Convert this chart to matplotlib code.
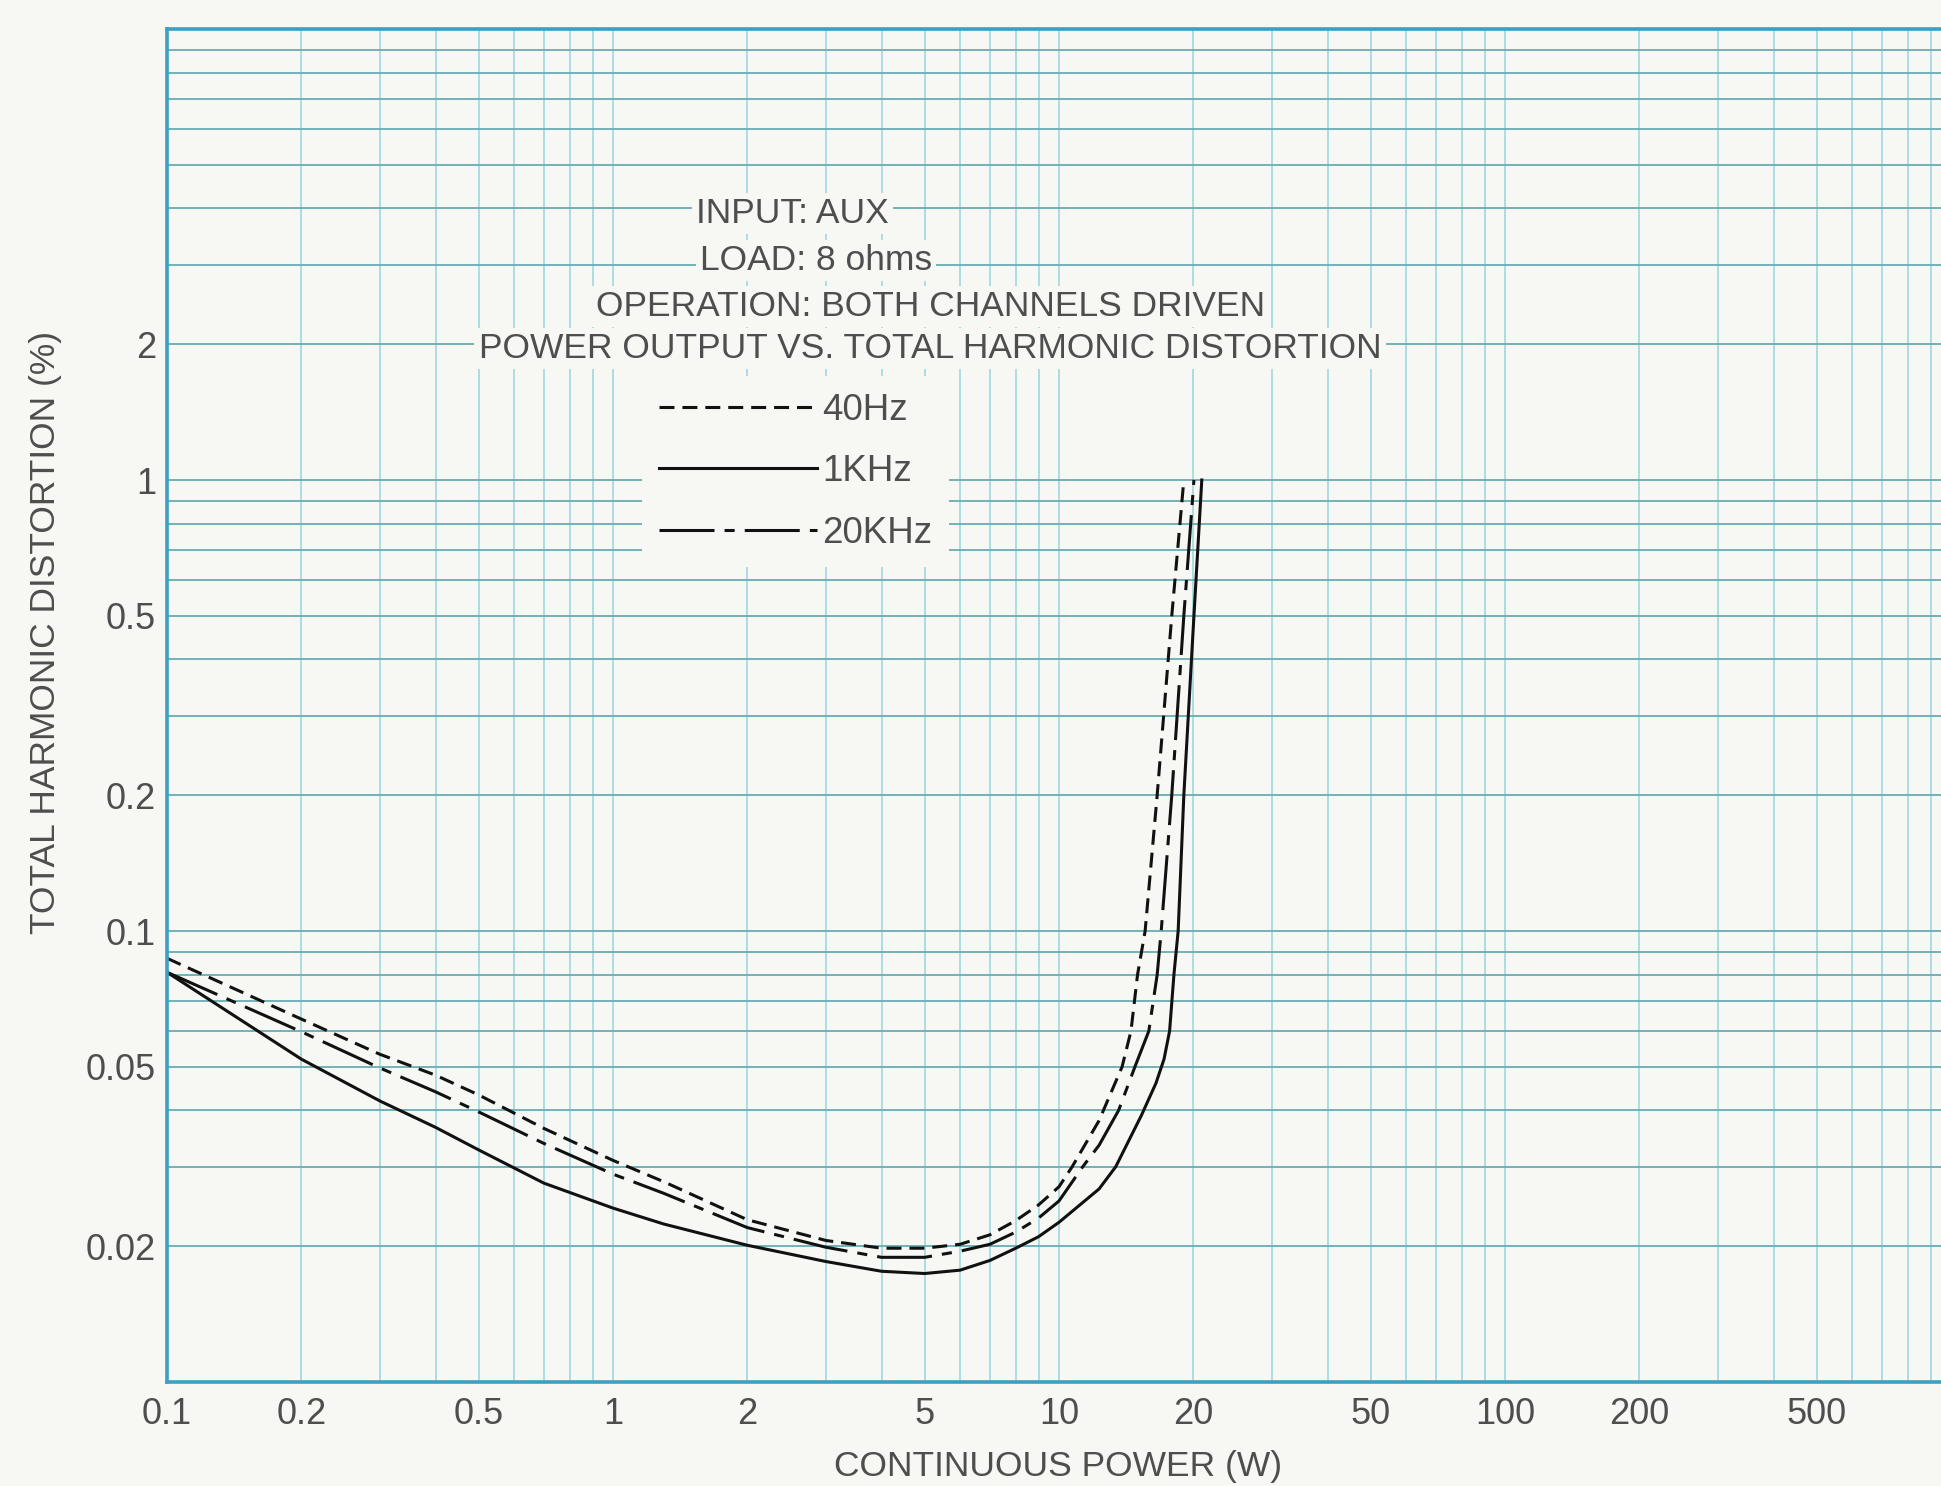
import numpy as np
import matplotlib
matplotlib.use("Agg")
import matplotlib.pyplot as plt
from matplotlib.ticker import LogLocator, NullFormatter

# ---------------- data ----------------
power_40hz = [0.1, 0.2, 0.3, 0.4, 0.5, 0.7, 1.0, 1.3, 2, 3, 4, 5, 6, 7, 8, 9, 10,
              10.7, 12.3, 13.85, 14.5, 15.0, 15.6, 16.6, 17.9, 19.05]
thd_40hz = [0.087, 0.0638, 0.0533, 0.0479, 0.0433, 0.0365, 0.031, 0.0278, 0.0229,
            0.0206, 0.0198, 0.0198, 0.0202, 0.0212, 0.0228, 0.0247, 0.0271,
            0.030, 0.038, 0.050, 0.060, 0.080, 0.10, 0.20, 0.50, 1.0]

power_1khz = [0.1, 0.2, 0.3, 0.4, 0.5, 0.7, 1.0, 1.3, 2, 3, 4, 5, 6, 7, 8, 9, 10,
              12.3, 13.4, 15.3, 16.5, 17.2, 17.7, 18.1, 18.5, 19.05, 20.07, 20.9]
thd_1khz = [0.081, 0.052, 0.042, 0.0367, 0.0327, 0.0276, 0.0243, 0.0224, 0.0201,
            0.0185, 0.0176, 0.0174, 0.0177, 0.0186, 0.0198, 0.0210, 0.0226,
            0.0268, 0.030, 0.039, 0.046, 0.052, 0.060, 0.080, 0.10, 0.20, 0.50, 1.0]

power_20khz = [0.1, 0.2, 0.3, 0.4, 0.5, 0.7, 1.0, 1.3, 2, 3, 4, 5, 6, 7, 8, 9, 10,
               11.3, 12.3, 13.6, 14.8, 15.9, 16.6, 16.95, 17.9, 19.05, 20.07]
thd_20khz = [0.081, 0.0598, 0.0497, 0.044, 0.0397, 0.0338, 0.0289, 0.0262, 0.0220,
             0.0199, 0.0189, 0.0189, 0.0195, 0.0202, 0.0215, 0.0231, 0.0252,
             0.030, 0.0335, 0.040, 0.050, 0.060, 0.080, 0.10, 0.20, 0.50, 1.0]

series_labels = ["40Hz", "1KHz", "20KHz"]

x_ticks = [0.1, 0.2, 0.5, 1, 2, 5, 10, 20, 50, 100, 200, 500]
x_tick_labels = ["0.1", "0.2", "0.5", "1", "2", "5", "10", "20", "50", "100", "200", "500"]
y_ticks = [0.02, 0.05, 0.1, 0.2, 0.5, 1, 2]
y_tick_labels = ["0.02", "0.05", "0.1", "0.2", "0.5", "1", "2"]

title_lines = ["INPUT: AUX", "LOAD: 8 ohms", "OPERATION: BOTH CHANNELS DRIVEN",
               "POWER OUTPUT VS. TOTAL HARMONIC DISTORTION"]
x_label = "CONTINUOUS POWER (W)"
y_label = "TOTAL HARMONIC DISTORTION (%)"

# ---------------- style ----------------
plt.rcParams["font.family"] = ["Liberation Sans", "DejaVu Sans"]
BG = "#f7f7f4"
TXT = "#4e4e4e"
HCOL = "#6cafb5"
VCOL = "#98d5df"
FRAME = "#3d9fc2"

W, H = 1941, 1486
fig = plt.figure(figsize=(W / 100, H / 100), dpi=100, facecolor=BG)


def fx(px):
    return px / W


def fy(py):
    return 1 - py / H


x_left, x_right, y_top, y_bot = 167, 1951, 29, 1382
ax = fig.add_axes([fx(x_left), fy(y_bot), fx(x_right) - fx(x_left), fy(y_top) - fy(y_bot)])
ax.set_facecolor(BG)
ax.set_xscale("log")
ax.set_yscale("log")
ax.set_xlim(0.1, 1000)
ax.set_ylim(0.01, 10)
ax.set_axisbelow(True)

ax.set_xticks(x_ticks)
ax.set_xticklabels(x_tick_labels)
ax.set_yticks(y_ticks)
ax.set_yticklabels(y_tick_labels)
ax.xaxis.set_minor_locator(LogLocator(base=10, subs=np.arange(1, 10), numticks=100))
ax.yaxis.set_minor_locator(LogLocator(base=10, subs=np.arange(1, 10), numticks=100))
ax.xaxis.set_minor_formatter(NullFormatter())
ax.yaxis.set_minor_formatter(NullFormatter())
ax.tick_params(which="both", length=0)
ax.tick_params(axis="x", which="major", pad=11, labelsize=26, labelcolor=TXT)
ax.tick_params(axis="y", which="major", pad=8, labelsize=26, labelcolor=TXT)

ax.xaxis.grid(True, which="both", color=VCOL, lw=1.1)
ax.yaxis.grid(True, which="both", color=HCOL, lw=1.35)
for s in ax.spines.values():
    s.set_color(FRAME)
    s.set_linewidth(2.6)

LW = 2.2
ls_40 = (0, (4.9, 2.6))
ls_1k = "-"
ls_20 = (0, (18, 3.3, 3.3, 3.3))

l40, = ax.plot(power_40hz, thd_40hz, color="#111111", lw=LW, linestyle=ls_40)
l1k, = ax.plot(power_1khz, thd_1khz, color="#111111", lw=LW, linestyle=ls_1k)
l20, = ax.plot(power_20khz, thd_20khz, color="#111111", lw=LW, linestyle=ls_20)

# title block
tb = dict(facecolor=BG, edgecolor="none", pad=3)
fig.text(fx(696), fy(223), title_lines[0], ha="left", va="baseline", fontsize=25.5, color=TXT, bbox=tb)
fig.text(fx(700), fy(270), title_lines[1], ha="left", va="baseline", fontsize=25.5, color=TXT, bbox=tb)
fig.text(fx(931), fy(316), title_lines[2], ha="center", va="baseline", fontsize=25.5, color=TXT, bbox=tb)
fig.text(fx(930), fy(358), title_lines[3], ha="center", va="baseline", fontsize=25.5, color=TXT, bbox=tb)

# legend
leg = ax.legend([l40, l1k, l20], series_labels, loc="upper left",
                bbox_to_anchor=(fx(642), fy(376)), bbox_transform=fig.transFigure,
                frameon=True, fancybox=False, facecolor=BG, edgecolor="none", framealpha=1,
                fontsize=26.5, handlelength=4.3, handletextpad=0.15, labelspacing=0.72,
                borderpad=0.45, borderaxespad=0)
for t in leg.get_texts():
    t.set_color(TXT)

# axis labels
fig.text(fx(1058), fy(1476), x_label, ha="center", va="baseline", fontsize=25.5, color=TXT)
fig.text(fx(55), fy(632), y_label, rotation=90, rotation_mode="anchor",
         ha="center", va="baseline", fontsize=25.5, color=TXT)

fig.savefig("out.png", dpi=100, facecolor=BG)
